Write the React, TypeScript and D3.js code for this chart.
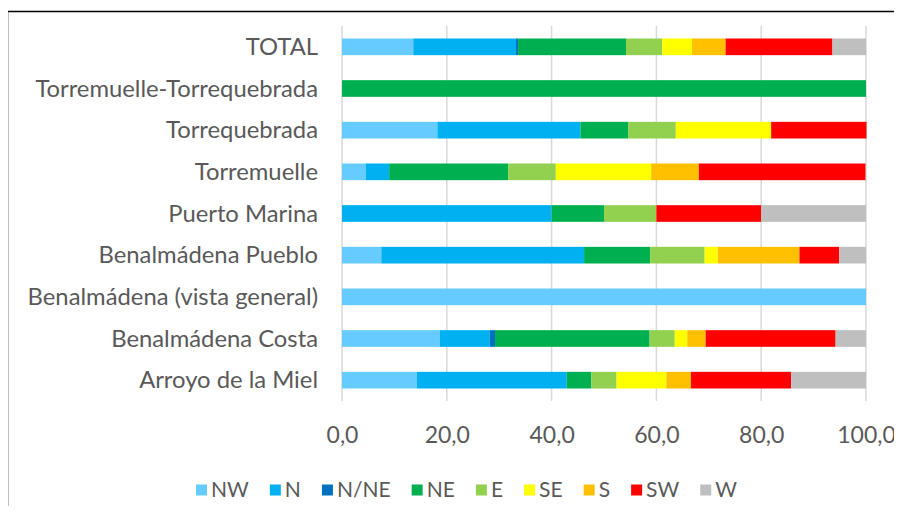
import React, { useRef, useEffect } from "react";
import { select, scaleLinear, scaleBand, stack, axisBottom } from "d3";

const categories = [
  "TOTAL",
  "Torremuelle-Torrequebrada",
  "Torrequebrada",
  "Torremuelle",
  "Puerto Marina",
  "Benalmádena Pueblo",
  "Benalmádena (vista general)",
  "Benalmádena Costa",
  "Arroyo de la Miel",
];

const directions = ["NW", "N", "N/NE", "NE", "E", "SE", "S", "SW", "W"];
const colors = ["#66CCFF", "#00B0F0", "#0070C0", "#00B050", "#92D050", "#FFFF00", "#FFC000", "#FF0000", "#BFBFBF"];

// one value per category, same order as categories
const nw = [13.6, 0, 18.2, 4.5, 0, 7.5, 100, 18.7, 14.3];
const n = [19.6, 0, 27.3, 4.5, 40, 38.7, 0, 9.5, 28.6];
const nne = [0.4, 0, 0, 0, 0, 0, 0, 1.0, 0];
const ne = [20.6, 100, 9.1, 22.7, 10, 12.6, 0, 29.5, 4.7];
const e = [6.9, 0, 9.1, 9.1, 10, 10.4, 0, 4.8, 4.8];
const se = [5.7, 0, 18.2, 18.2, 0, 2.5, 0, 2.4, 9.5];
const s = [6.4, 0, 0, 9.1, 0, 15.6, 0, 3.5, 4.7];
const sw = [20.4, 0, 18.2, 31.8, 20, 7.6, 0, 24.8, 19.1];
const w = [6.4, 0, 0, 0, 20, 5.1, 0, 5.8, 14.3];

const xTicks = [0, 20, 40, 60, 80, 100];

const WIDTH = 902;
const HEIGHT = 514;
const FONT = "Lato, 'Open Sans', sans-serif";
const TEXT = "#595959";

function WindChart() {
  const svgRef = useRef<SVGSVGElement>(null);

  useEffect(() => {
    const svg = select(svgRef.current);
    svg.selectAll("*").remove();

    const series = [nw, n, nne, ne, e, se, s, sw, w];
    const rows = categories.map((c, i) => {
      const r: any = { cat: c };
      directions.forEach((d, k) => (r[d] = series[k][i]));
      return r;
    });

    const xScale = scaleLinear().domain([0, 100]).range([342, 866]);
    const yScale = scaleBand().domain(categories).range([26, 401]).paddingInner(0.6).paddingOuter(0.3);

    // frame lines (top + left, as in the cropped source)
    svg.append("line").attr("x1", 7.5).attr("x2", WIDTH).attr("y1", 11.5).attr("y2", 11.5)
      .attr("stroke", "#000").attr("stroke-width", 1.5);
    svg.append("line").attr("x1", 7.5).attr("x2", 7.5).attr("y1", 11.5).attr("y2", HEIGHT)
      .attr("stroke", "#000").attr("stroke-width", 1.5);

    // grid
    svg.append("g")
      .selectAll("line")
      .data(xTicks)
      .join("line")
      .attr("x1", (d) => xScale(d))
      .attr("x2", (d) => xScale(d))
      .attr("y1", 26)
      .attr("y2", 401)
      .attr("stroke", "#D9D9D9")
      .attr("stroke-width", 1.5);

    const stacked = stack<any>().keys(directions)(rows);

    svg.append("g")
      .selectAll("g")
      .data(stacked)
      .join("g")
      .attr("fill", (d, i) => colors[i])
      .selectAll("rect")
      .data((d) => d)
      .join("rect")
      .attr("x", (d) => xScale(d[0]))
      .attr("width", (d) => xScale(d[1]) - xScale(d[0]))
      .attr("y", (d) => yScale(d.data.cat)!)
      .attr("height", yScale.bandwidth());

    // category labels
    svg.append("g")
      .selectAll("text")
      .data(categories)
      .join("text")
      .attr("x", 318)
      .attr("y", (d) => yScale(d)! + yScale.bandwidth() / 2)
      .attr("dy", "0.35em")
      .attr("text-anchor", "end")
      .attr("font-family", FONT)
      .attr("font-size", 23.8)
      .attr("fill", TEXT)
      .text((d) => d);

    // x axis
    const xAxis = axisBottom(xScale)
      .tickValues(xTicks)
      .tickSize(0)
      .tickPadding(0)
      .tickFormat((d) => (d as number).toFixed(1).replace(".", ","));
    const gx = svg.append("g").attr("transform", "translate(0,427)").call(xAxis);
    gx.select(".domain").remove();
    gx.selectAll("text")
      .attr("font-family", FONT)
      .attr("font-size", 23)
      .attr("fill", TEXT);

    // legend: measure labels, then spread between x=196 and x=737
    const legend = svg.append("g").attr("transform", "translate(196,490)");
    const items = directions.map((d, i) => {
      const item = legend.append("g");
      item.append("rect").attr("x", 0).attr("y", -5.5).attr("width", 11).attr("height", 11).attr("fill", colors[i]);
      const t = item.append("text")
        .attr("x", 15)
        .attr("dy", "0.35em")
        .attr("font-family", FONT)
        .attr("font-size", 21)
        .attr("fill", TEXT)
        .text(d);
      return { item, width: 15 + (t.node() as SVGTextElement).getComputedTextLength() };
    });
    const used = items.reduce((a, b) => a + b.width, 0);
    const gap = (541 - used) / (items.length - 1);
    let cx = 0;
    items.forEach(({ item, width }) => {
      item.attr("transform", `translate(${cx},0)`);
      cx += width + gap;
    });
  }, []);

  return <svg ref={svgRef} width={WIDTH} height={HEIGHT} style={{ display: "block", background: "#fff" }} />;
}

export default function App() {
  return (
    <div style={{ margin: -8 }}>
      <WindChart />
    </div>
  );
}
